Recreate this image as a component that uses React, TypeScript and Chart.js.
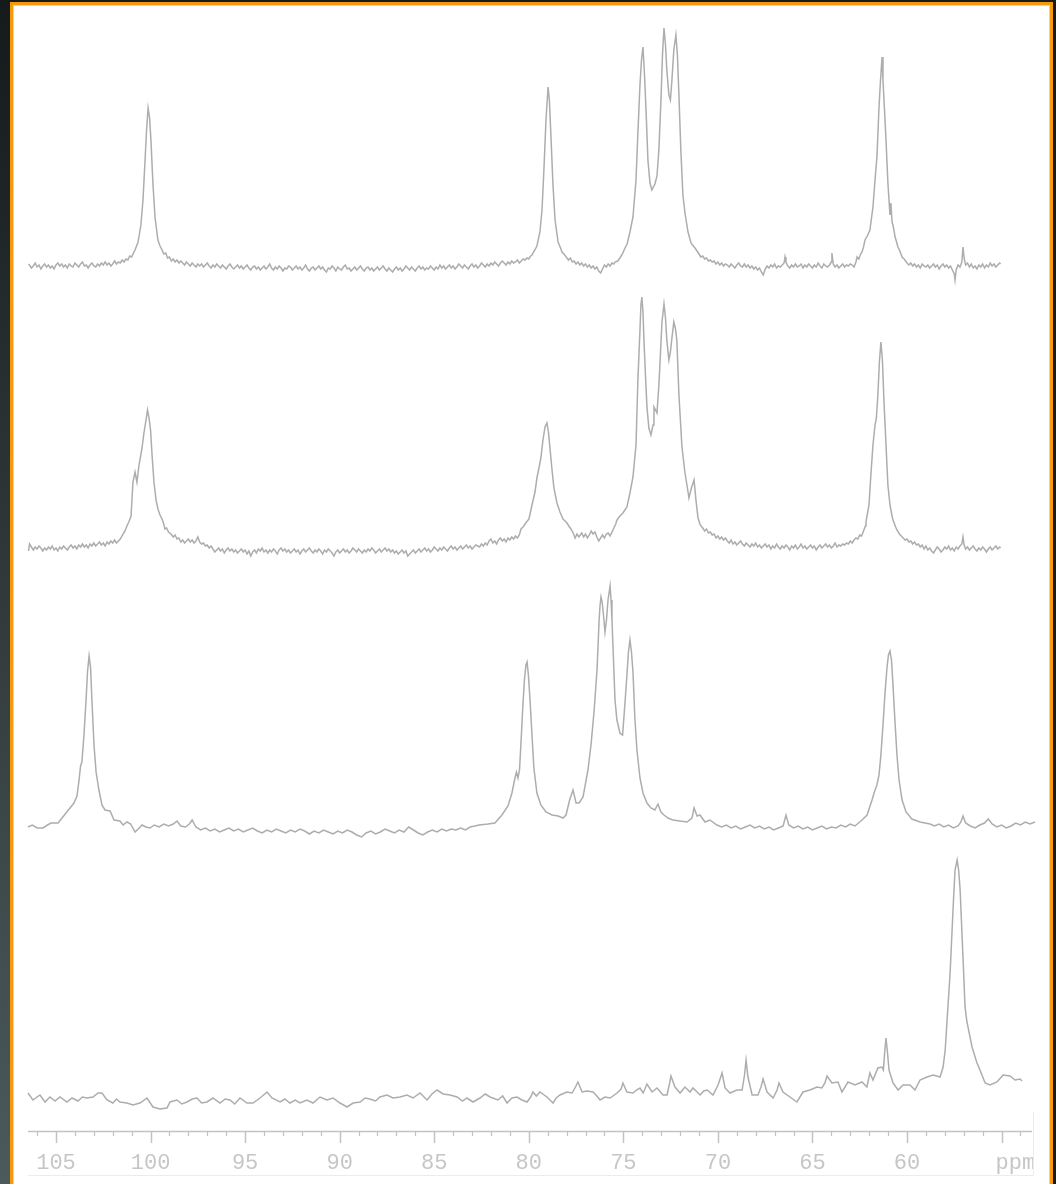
import { useEffect, useRef } from 'react';
import { Chart, registerables } from 'chart.js';

Chart.register(...registerables);

// [chemical shift (ppm), relative intensity]
const spectrumA: [number, number][] = [
  [106.45,2],[106.4,1],[106.3,-2],[106.2,0],[106.1,3],[106.0,-1],[105.9,1],[105.8,-3],[105.7,0],[105.6,2],[105.5,-1],[105.4,1],[105.3,-2],[105.2,0],[105.1,-3],[105.0,1],[104.9,3],[104.8,0],[104.7,2],[104.6,-1],[104.5,1],[104.4,-2],[104.3,2],[104.2,0],[104.1,-1],[104.0,3],[103.9,1],[103.8,-1],[103.7,2],[103.6,4],[103.5,0],[103.4,1],[103.3,-2],[103.2,1],[103.1,3],[103.0,0],[102.9,-1],[102.8,2],[102.7,0],[102.6,3],[102.5,1],[102.4,4],[102.3,1],[102.2,3],[102.1,0],[102.0,2],[101.9,5],[101.8,2],[101.7,4],
  [101.6,3],[101.5,6],[101.4,4],[101.3,7],[101.2,6],[101.1,10],[101.0,9],[100.9,13],[100.82,16],[100.66,24],[100.51,41],[100.4,66],[100.29,106],[100.21,136],[100.13,158],[100.05,148],[99.98,126],[99.87,81],[99.76,48],[99.61,26],[99.5,20],[99.39,16],[99.3,12],[99.2,13],[99.1,8],[99.0,9],[98.9,5],[98.8,7],[98.7,4],[98.6,6],[98.5,3],[98.4,5],
  [98.3,3],[98.2,1],[98.1,4],[98.0,2],[97.9,0],[97.8,3],[97.7,1],[97.6,-1],[97.5,2],[97.4,0],
  [97.3,2],[97.2,-1],[97.1,1],[97.0,3],[96.9,0],[96.8,-2],[96.7,1],[96.6,-1],[96.5,2],[96.4,0],
  [96.3,-2],[96.2,1],[96.1,-1],[96.0,-3],[95.9,0],[95.8,2],[95.7,-1],[95.6,-3],[95.5,-1],[95.4,1],
  [95.3,-2],[95.2,0],[95.1,-3],[95.0,-1],[94.9,1],[94.8,-2],[94.7,-4],[94.6,-1],[94.5,0],[94.4,-3],
  [94.3,-1],[94.2,-4],[94.1,-2],[94.0,0],[93.9,-3],[93.8,-1],[93.7,2],[93.6,-2],[93.5,-4],[93.4,-1],
  [93.3,-3],[93.2,0],[93.1,-2],[93.0,-5],[92.9,-2],[92.8,-3],[92.7,0],[92.6,-1],[92.5,-4],[92.4,-2],
  [92.3,0],[92.2,-3],[92.1,-1],[92.0,-4],[91.9,-2],[91.8,1],[91.7,-3],[91.6,-5],[91.5,-2],[91.4,-1],
  [91.3,-4],[91.2,-2],[91.1,0],[91.0,-3],[90.9,-1],[90.8,-4],[90.7,-6],[90.6,-2],[90.5,-3],[90.4,0],
  [90.3,-2],[90.2,-5],[90.1,-1],[90.0,-3],[89.9,-4],[89.8,-1],[89.7,1],[89.6,-3],[89.5,-2],[89.4,-5],
  [89.3,-3],[89.2,-1],[89.1,-4],[89.0,-2],[88.9,0],[88.8,-3],[88.7,-5],[88.6,-2],[88.5,-1],[88.4,-4],
  [88.3,-2],[88.2,-5],[88.1,-3],[88.0,-1],[87.9,-4],[87.8,-2],[87.7,0],[87.6,-3],[87.5,-5],[87.4,-2],
  [87.3,-4],[87.2,-6],[87.1,-3],[87.0,-1],[86.9,-4],[86.8,-2],[86.7,-5],[86.6,-3],[86.5,0],[86.4,-2],
  [86.3,-4],[86.2,-1],[86.1,-3],[86.0,-5],[85.9,-2],[85.8,0],[85.7,-3],[85.6,-1],[85.5,-4],[85.4,-2],
  [85.3,-3],[85.2,0],[85.1,-2],[85.0,-4],[84.9,-1],[84.8,-3],[84.7,1],[84.6,-2],[84.5,0],[84.4,-3],
  [84.3,-1],[84.2,1],[84.1,-2],[84.0,0],[83.9,-3],[83.8,-1],[83.7,2],[83.6,0],[83.5,-2],[83.4,1],
  [83.3,-1],[83.2,-3],[83.1,0],[83.0,2],[82.9,-1],[82.8,1],[82.7,-2],[82.6,0],[82.5,3],[82.4,1],
  [82.3,-1],[82.2,2],[82.1,0],[82.0,3],[81.9,1],[81.8,4],[81.7,2],[81.6,0],[81.5,3],[81.4,5],
  [81.3,3],[81.2,1],[81.1,4],[81.0,2],[80.9,5],[80.8,3],[80.7,4],[80.6,6],[80.5,3],[80.4,5],[80.3,7],[80.2,6],[80.1,8],[80.0,7],[79.9,10],[79.83,11],[79.75,14],[79.65,17],[79.57,20],[79.41,34],[79.3,56],[79.2,96],[79.09,146],[78.98,179],[78.91,166],[78.83,131],[78.72,81],[78.61,46],[78.45,24],[78.3,17],[78.24,14],[78.1,11],[77.98,8],[77.9,6],[77.8,8],[77.7,4],[77.6,5],[77.5,2],
  [77.4,4],[77.3,1],[77.2,3],[77.1,0],[77.0,2],[76.9,-1],[76.8,1],[76.7,-2],[76.6,0],[76.5,-3],[76.4,-1],[76.3,-5],[76.2,-7],[76.1,-3],[76.0,1],[75.9,-1],[75.8,2],[75.7,0],[75.6,3],[75.5,2],
  [75.44,4],[75.3,5],[75.18,8],[75.05,12],[74.91,18],[74.8,22],[74.65,34],[74.49,49],[74.33,86],[74.23,133],[74.12,181],[74.04,206],[73.96,219],[73.88,191],[73.8,156],[73.7,106],[73.59,83],[73.49,76],[73.33,82],[73.22,90],[73.12,116],[73.01,166],[72.93,211],[72.85,238],[72.77,221],[72.7,196],[72.59,171],[72.51,166],[72.43,186],[72.33,216],[72.22,231],[72.14,211],[72.06,171],[71.96,116],[71.85,71],[71.74,53],[71.58,34],[71.42,23],[71.3,20],[71.21,18],[71.1,15],[71.0,12],[70.9,9],[70.8,10],[70.7,7],[70.6,8],[70.5,5],[70.4,6],[70.3,4],[70.2,5],[70.1,2],[70.0,4],[69.9,1],[69.8,3],[69.7,0],[69.6,2],[69.5,1],
  [69.4,-1],[69.3,2],[69.2,0],[69.1,-2],[69.0,1],[68.9,3],[68.8,0],[68.7,-1],[68.6,2],[68.5,-1],
  [68.4,1],[68.3,-2],[68.2,0],[68.1,-3],[68.0,-1],[67.9,-4],[67.8,-2],[67.7,-6],[67.6,-9],[67.5,-3],
  [67.4,0],[67.3,-2],[67.2,1],[67.1,-1],[67.0,2],[66.9,-2],[66.8,0],[66.7,-1],[66.6,1],[66.5,3],
  [66.45,9],[66.4,4],[66.3,0],[66.2,-2],[66.1,1],[66.0,-1],[65.9,2],[65.8,-1],[65.7,0],[65.6,2],[65.5,-2],
  [65.4,1],[65.3,-1],[65.2,2],[65.1,0],[65.0,-2],[64.9,1],[64.8,-1],[64.7,3],[64.6,0],[64.5,-2],
  [64.4,2],[64.3,0],[64.2,-1],[64.1,1],[64.0,4],[63.97,13],[63.9,2],[63.8,-1],[63.7,1],[63.6,-2],[63.5,0],
  [63.4,2],[63.3,-1],[63.2,1],[63.1,0],[63.0,2],[62.9,1],[62.8,-1],
  [62.7,4],[62.64,9],[62.55,7],[62.45,12],[62.38,14],[62.3,19],[62.22,26],[62.1,30],[61.96,36],[61.8,59],[61.69,86],[61.59,109],[61.48,159],[61.4,186],[61.32,209],[61.27,186],[61.19,156],[61.11,126],[61.01,83],[60.9,51],[60.85,63],[60.79,44],[60.71,38],[60.63,29],[60.55,24],[60.48,19],[60.4,16],[60.3,11],[60.26,9],[60.15,7],[60.0,3],
  [59.9,1],[59.8,3],[59.7,0],[59.6,2],[59.5,-1],[59.4,1],[59.3,-2],[59.2,2],[59.1,0],[59.0,-1],[58.9,1],[58.8,-2],[58.7,0],[58.6,2],[58.5,-1],[58.4,1],[58.3,-3],[58.2,0],[58.1,2],[58.0,-1],[57.9,1],[57.8,-2],[57.7,0],[57.6,-4],[57.5,-8],[57.46,-14],[57.4,-4],[57.3,1],[57.2,-1],[57.1,4],[57.04,19],[56.98,8],[56.9,1],[56.8,3],[56.7,-1],[56.6,2],[56.5,-2],[56.4,0],[56.3,-3],[56.2,1],[56.1,-1],[56.0,2],[55.9,-2],[55.8,1],[55.7,-1],[55.6,3],[55.5,0],[55.4,2],[55.3,-1],[55.2,1],[55.1,3],[55.05,2],
];

const spectrumB: [number, number][] = [
  [106.45,-3],[106.4,4],[106.3,1],[106.2,-2],[106.1,1],[106.0,-1],[105.9,2],[105.8,0],[105.7,-3],[105.6,0],[105.5,-2],[105.4,1],[105.3,-1],[105.2,2],[105.1,-2],[105.0,0],[104.9,-3],[104.8,1],[104.7,-1],[104.6,2],[104.5,0],[104.4,-2],[104.3,1],[104.2,3],[104.1,0],[104.0,2],[103.9,-1],[103.8,3],[103.7,1],[103.6,4],[103.5,1],[103.4,3],[103.3,0],[103.2,4],[103.1,2],[103.0,5],[102.9,2],[102.8,4],[102.7,6],[102.6,3],[102.5,5],[102.4,2],[102.3,6],[102.2,4],[102.1,7],[102.0,5],[101.9,8],[101.8,5],[101.7,7],[101.6,9],
  [101.45,14],[101.35,17],[101.25,22],[101.15,26],[101.03,32],[100.93,66],[100.82,76],[100.72,66],[100.61,83],[100.45,100],[100.35,115],[100.24,128],[100.16,138],[100.08,130],[100.0,118],[99.92,93],[99.82,66],[99.71,48],[99.61,39],[99.5,33],[99.39,29],[99.3,24],[99.24,19],[99.15,20],[99.05,16],[98.92,14],[98.8,11],[98.7,13],[98.6,9],[98.5,10],[98.4,6],[98.3,8],[98.2,5],[98.1,7],[98.0,9],[97.9,6],[97.8,8],[97.7,5],[97.6,7],[97.5,11],[97.4,6],[97.3,4],[97.2,5],[97.1,2],[97.0,3],[96.9,0],[96.8,2],
  [96.7,-1],[96.6,-4],[96.5,-2],[96.4,0],[96.3,-3],[96.2,-1],[96.1,-5],[96.0,-2],[95.9,0],[95.8,-3],
  [95.7,-1],[95.6,-4],[95.5,-2],[95.4,-5],[95.3,-3],[95.2,-1],[95.1,-4],[95.0,-2],[94.9,-6],[94.8,-3],
  [94.7,-8],[94.6,-4],[94.5,-2],[94.4,-5],[94.3,-1],[94.2,-3],[94.1,0],[94.0,-4],[93.9,-2],[93.8,-5],
  [93.7,-2],[93.6,-4],[93.5,-1],[93.4,-3],[93.3,-6],[93.2,-2],[93.1,0],[93.0,-3],[92.9,-1],[92.8,-4],
  [92.7,-2],[92.6,-5],[92.5,-3],[92.4,-1],[92.3,-4],[92.2,-2],[92.1,-6],[92.0,-3],[91.9,-1],[91.8,-4],
  [91.7,-2],[91.6,0],[91.5,-3],[91.4,-5],[91.3,-2],[91.2,-4],[91.1,-1],[91.0,-3],[90.9,-6],[90.8,-2],
  [90.7,-4],[90.6,-1],[90.5,-3],[90.4,-5],[90.3,-8],[90.2,-4],[90.1,-2],[90.0,-5],[89.9,-3],[89.8,-1],
  [89.7,-4],[89.6,-2],[89.5,-5],[89.4,-3],[89.3,0],[89.2,-2],[89.1,-4],[89.0,-1],[88.9,-3],[88.8,-5],
  [88.7,-2],[88.6,-4],[88.5,-1],[88.4,-3],[88.3,0],[88.2,-2],[88.1,-5],[88.0,-3],[87.9,-1],[87.8,-4],
  [87.7,-2],[87.6,0],[87.5,-3],[87.4,-1],[87.3,-4],[87.2,-2],[87.1,-5],[87.0,-3],[86.9,-6],[86.8,-4],
  [86.7,-2],[86.6,-5],[86.5,-3],[86.4,-8],[86.3,-6],[86.2,-4],[86.1,-2],[86.0,-5],[85.9,-3],[85.8,-1],
  [85.7,-4],[85.6,-2],[85.5,0],[85.4,-3],[85.3,-1],[85.2,-4],[85.1,-2],[85.0,1],[84.9,-1],[84.8,-3],
  [84.7,0],[84.6,-2],[84.5,1],[84.4,-1],[84.3,-3],[84.2,0],[84.1,2],[84.0,-1],[83.9,1],[83.8,-2],
  [83.7,0],[83.6,2],[83.5,-1],[83.4,1],[83.3,3],[83.2,0],[83.1,2],[83.0,-1],[82.9,1],[82.8,3],[82.7,2],
  [82.6,1],[82.5,4],[82.4,2],[82.3,5],[82.2,3],[82.1,7],[82.0,9],[81.9,5],[81.8,7],[81.7,4],[81.6,8],[81.5,10],[81.4,7],[81.3,9],[81.2,6],[81.1,10],[81.0,8],[80.9,11],[80.8,9],[80.7,12],[80.6,10],[80.5,13],[80.41,19],[80.3,21],[80.2,24],
  [79.99,29],[79.83,43],[79.67,56],[79.57,70],[79.46,80],[79.36,90],[79.25,108],[79.14,121],[79.04,125],[78.96,116],[78.88,100],[78.77,78],[78.67,60],[78.51,45],[78.35,36],[78.19,29],[78.08,27],[77.98,25],[77.88,22],[77.77,19],[77.65,15],[77.55,10],[77.45,14],[77.35,11],[77.2,15],[77.1,11],[77.0,14],[76.9,10],[76.8,13],[76.7,17],[76.6,14],[76.5,16],[76.4,11],[76.3,7],[76.2,10],[76.1,13],[76.0,10],[75.9,14],[75.8,15],[75.7,12],[75.6,16],[75.5,20],[75.4,24],[75.34,28],[75.18,32],[75.02,35],[74.81,41],[74.65,55],[74.49,71],[74.33,103],[74.23,168],[74.12,218],[74.07,243],[74.02,251],[73.96,236],[73.91,208],[73.83,173],[73.75,141],[73.65,120],[73.54,113],[73.43,123],[73.38,141],[73.3,138],[73.22,135],[73.12,163],[73.04,193],[72.96,225],[72.85,244],[72.77,230],[72.7,208],[72.59,188],[72.51,196],[72.43,210],[72.33,226],[72.25,220],[72.17,208],[72.06,153],[71.9,101],[71.74,75],[71.61,60],[71.53,50],[71.4,60],[71.26,68],[71.16,48],[71.05,30],[70.95,24],[70.89,22],[70.8,20],[70.7,17],[70.6,19],[70.5,15],[70.4,16],[70.3,13],[70.2,14],[70.1,10],[70.0,12],[69.9,9],[69.8,11],[69.7,8],[69.6,10],[69.5,7],
  [69.4,5],[69.3,8],[69.2,4],[69.1,6],[69.0,3],[68.9,5],[68.8,7],[68.7,4],[68.6,2],[68.5,5],
  [68.4,3],[68.3,1],[68.2,4],[68.1,2],[68.0,5],[67.9,1],[67.8,3],[67.7,0],[67.6,2],[67.5,4],
  [67.4,1],[67.3,3],[67.2,-1],[67.1,2],[67.0,0],[66.9,4],[66.8,1],[66.7,-1],[66.6,2],[66.5,0],
  [66.4,3],[66.3,1],[66.2,-2],[66.1,2],[66.0,0],[65.9,3],[65.8,-1],[65.7,1],[65.6,4],[65.5,0],
  [65.4,2],[65.3,-1],[65.2,1],[65.1,3],[65.0,0],[64.9,2],[64.8,-2],[64.7,1],[64.6,3],[64.5,0],
  [64.4,2],[64.3,4],[64.2,1],[64.1,3],[64.0,0],[63.9,2],[63.8,5],[63.7,1],[63.6,3],[63.5,2],[63.4,4],
  [63.3,3],[63.2,5],[63.1,4],[63.0,7],[62.9,5],[62.8,8],[62.7,10],[62.6,9],[62.5,13],[62.4,12],[62.3,17],[62.2,22],[62.17,26],[62.01,43],[61.91,73],[61.8,103],[61.69,123],[61.62,130],[61.54,153],[61.46,186],[61.38,206],[61.3,188],[61.22,148],[61.11,103],[61.01,63],[60.9,43],[60.8,33],[60.74,28],[60.6,21],[60.53,18],[60.4,14],[60.3,12],[60.2,10],[60.1,8],[60.0,9],[59.9,6],[59.8,7],[59.7,4],[59.6,6],[59.5,3],[59.4,4],[59.3,1],
  [59.2,3],[59.1,-1],[59.0,2],[58.9,-2],[58.8,0],[58.7,-3],[58.6,-5],[58.5,-2],[58.4,1],[58.3,-1],[58.2,-4],[58.1,-2],[58.0,1],[57.9,-1],[57.8,2],[57.7,-2],[57.6,0],[57.5,-3],[57.4,1],[57.3,-1],[57.2,2],[57.1,4],[57.04,11],[56.98,3],[56.9,-1],[56.8,1],[56.7,-2],[56.6,0],[56.5,2],[56.4,-1],[56.3,-3],[56.2,0],[56.1,-2],[56.0,1],[55.9,-1],[55.8,-4],[55.7,-1],[55.6,1],[55.5,-2],[55.4,0],[55.3,2],[55.2,-1],[55.1,1],[55.05,0],
];

const spectrumC: [number, number][] = [
  [106.48,-1],[106.25,1],[106.0,-2],[105.69,-2],[105.45,1],[105.26,3],[104.89,3],[104.68,8],[104.47,13],[104.26,18],[104.05,23],[103.89,30],[103.78,46],[103.7,60],[103.63,64],[103.52,91],[103.41,126],[103.33,155],[103.25,170],[103.17,158],[103.1,126],[102.99,81],[102.88,54],[102.73,36],[102.57,21],[102.41,16],[102.14,15],[101.93,6],[101.62,5],[101.45,1],[101.25,4],[101.05,2],[100.82,-6],[100.65,-3],[100.45,1],[100.25,-1],[100.03,-2],
  [99.8,1],[99.55,-1],[99.3,2],[99.05,0],[98.8,2],[98.6,5],[98.4,0],[98.15,-1],[97.95,2],[97.8,6],[97.6,-1],[97.35,-4],[97.1,-2],[96.85,-5],[96.6,-3],[96.35,-6],[96.1,-4],[95.85,-2],[95.6,-5],[95.35,-3],[95.1,-6],[94.85,-4],[94.6,-2],[94.35,-5],[94.1,-7],[93.85,-4],[93.6,-6],[93.35,-3],[93.1,-5],[92.85,-7],[92.6,-4],[92.35,-6],[92.1,-3],[91.85,-5],[91.6,-8],[91.35,-5],[91.1,-7],[90.85,-4],[90.6,-6],[90.35,-8],[90.1,-5],[89.85,-7],[89.6,-4],[89.35,-6],[89.1,-9],[88.85,-11],[88.6,-7],[88.35,-5],[88.1,-8],[87.85,-6],[87.6,-3],[87.35,-5],[87.1,-7],[86.85,-4],[86.6,-6],[86.35,-1],[86.1,-4],[85.85,-7],[85.6,-9],[85.35,-6],[85.1,-4],[84.85,-6],[84.6,-3],[84.35,-5],[84.1,-3],[83.85,-4],[83.6,-2],[83.35,-4],[83.1,-1],[82.85,0],
  [82.63,1],[82.16,2],[81.79,3],[81.42,11],[81.1,20],[80.89,33],[80.73,48],[80.65,54],[80.57,48],[80.49,56],[80.41,84],[80.31,121],[80.23,146],[80.15,161],[80.09,164],[80.02,151],[79.94,128],[79.83,91],[79.73,58],[79.57,33],[79.36,21],[79.09,14],[78.77,11],[78.45,10],[78.19,8],[78.03,11],[77.84,26],[77.66,36],[77.5,23],[77.34,23],[77.13,29],[76.87,56],[76.71,81],[76.55,114],[76.39,156],[76.28,206],[76.23,221],[76.18,229],[76.12,224],[76.04,209],[75.97,194],[75.89,206],[75.81,226],[75.7,240],[75.65,226],[75.6,206],[75.52,166],[75.44,126],[75.34,106],[75.18,93],[75.04,91],[74.96,111],[74.89,129],[74.81,151],[74.73,174],[74.65,186],[74.57,174],[74.49,154],[74.39,108],[74.28,76],[74.12,48],[73.96,33],[73.75,23],[73.54,18],[73.33,16],[73.17,22],[73.01,14],[72.85,11],[72.64,8],[72.38,6],[72.01,5],[71.63,4],[71.37,8],[71.26,18],[71.1,10],[70.95,11],[70.68,4],[70.42,6],[70.05,1],
  [69.8,-1],[69.55,1],[69.3,-2],[69.05,0],[68.8,-3],[68.55,-1],[68.3,1],[68.05,-2],[67.8,0],[67.55,-3],[67.3,-1],[67.05,-4],[66.8,-2],[66.55,0],[66.4,11],[66.25,1],[66.0,-2],[65.75,0],[65.5,-3],[65.25,-1],[65.0,-4],[64.75,-2],[64.5,0],[64.25,-3],[64.0,-1],[63.75,-2],[63.5,1],[63.25,-1],[63.0,2],
  [62.75,0],[62.38,6],[62.11,11],[61.85,26],[61.69,36],[61.59,41],[61.48,51],[61.38,71],[61.27,101],[61.17,131],[61.06,158],[60.98,171],[60.9,175],[60.82,166],[60.74,141],[60.64,106],[60.53,71],[60.42,46],[60.26,26],[60.05,14],[59.74,7],[59.31,4],[58.78,2],
  [58.55,0],[58.3,2],[58.05,-1],[57.8,1],[57.55,-2],[57.3,0],[57.15,4],[57.04,10],[56.9,3],[56.65,0],[56.4,-2],[56.15,1],[55.9,3],[55.7,7],[55.5,2],[55.25,-1],[55.0,1],[54.75,-2],[54.5,0],[54.25,3],[54.0,1],[53.75,4],[53.5,2],[53.23,4],
];

const spectrumD: [number, number][] = [
  [106.48,2],[106.22,-5],[105.85,0],[105.58,-7],[105.32,-2],[105.05,-6],[104.79,-2],[104.42,-7],[104.15,-3],[103.84,-6],[103.6,-2],[103.36,-3],[103.04,-2],[102.78,2],[102.57,2],[102.3,-5],[101.99,-8],[101.8,-4],[101.62,-7],[101.25,-8],[100.93,-10],[100.56,-8],[100.19,-3],[99.87,-12],[99.5,-14],[99.13,-13],[98.97,-7],[98.6,-5],[98.35,-9],[98.07,-7],[97.8,-4],[97.54,-3],[97.3,-8],[97.02,-7],[96.7,-3],[96.33,-8],[96.05,-4],[95.8,-5],[95.55,-9],[95.27,-3],[94.9,-8],[94.58,-8],[94.21,-3],[93.84,3],[93.58,-3],[93.15,-7],[92.9,-4],[92.63,-8],[92.35,-5],[92.1,-8],[91.73,-5],[91.41,-8],[91.04,-2],[90.67,-5],[90.35,-3],[89.98,-8],[89.61,-12],[89.29,-8],[88.92,-7],[88.65,-3],[88.4,-4],[88.1,-6],[87.87,-2],[87.5,0],[87.18,-3],[86.81,-2],[86.44,0],[86.12,-3],[85.75,2],[85.38,-5],[85.12,1],[84.85,5],[84.53,1],[84.16,0],[83.79,-2],[83.5,-6],[83.27,-3],[82.95,-7],[82.58,-3],[82.3,1],[82.05,-2],[81.63,-5],[81.38,-1],[81.15,-8],[80.89,-3],[80.62,-2],[80.36,-5],[80.09,-7],[79.9,-2],[79.78,3],[79.6,-1],[79.41,3],[79.04,-2],[78.72,-8],[78.55,-3],[78.35,0],[77.98,3],[77.71,2],[77.53,8],[77.4,13],[77.18,3],[76.92,4],[76.6,3],[76.4,-1],[76.23,-5],[75.97,-2],[75.7,-3],[75.33,2],[75.12,6],[75.02,12],[74.81,3],[74.49,2],[74.3,5],[74.12,7],[73.95,2],[73.75,11],[73.48,3],[73.22,7],[72.9,0],[72.69,0],[72.55,12],[72.48,19],[72.27,8],[72.0,2],[71.74,8],[71.47,3],[71.32,7],[70.94,0],[70.75,4],[70.57,5],[70.26,0],[69.99,10],[69.78,22],[69.62,7],[69.36,2],[68.99,5],[68.72,5],[68.59,20],[68.51,35],[68.41,18],[68.19,0],[67.88,0],[67.72,8],[67.61,16],[67.4,3],[67.08,-3],[66.87,5],[66.77,12],[66.56,3],[66.19,-2],[65.82,-7],[65.5,3],[65.13,5],[64.76,8],[64.5,7],[64.34,12],[64.23,19],[63.97,12],[63.65,13],[63.44,3],[63.12,13],[62.75,10],[62.38,13],[62.12,8],[61.96,22],[61.8,15],[61.54,27],[61.33,28],[61.25,25],[61.17,45],[61.11,57],[61.03,42],[60.95,25],[60.74,12],[60.47,5],[60.21,10],[59.84,10],[59.58,5],[59.31,15],[58.94,18],[58.62,20],[58.25,18],[58.09,28],[57.98,45],[57.88,75],[57.72,122],[57.56,188],[57.46,225],[57.35,235],[57.27,225],[57.19,205],[57.04,138],[56.93,88],[56.83,73],[56.56,48],[56.3,32],[56.14,25],[55.87,12],[55.61,10],[55.24,13],[54.92,20],[54.55,19],[54.29,15],[54.02,16],[53.92,14],
];

// vertical stacking of the four traces (baseline level of each trace)
const traceBaselines = [865, 583, 305, 36];

const axisMin = 53.39;
const axisMax = 106.48;
const majorTicks = [105, 100, 95, 90, 85, 80, 75, 70, 65, 60, 55];
const tickLabels = ['105', '100', '95', '90', '85', '80', '75', '70', '65', '60'];
const unitLabel = 'ppm';

const LINE_COLOR = '#adadad';
const AXIS_COLOR = '#c2c2c2';
const LABEL_COLOR = '#c6c6c6';
const FONT = '22px "Liberation Mono", "DejaVu Sans Mono", monospace';

const ppmAxisPlugin = {
  id: 'ppmAxis',
  afterDraw(chart: any) {
    const { ctx, chartArea, scales } = chart;
    const xs = scales.x;
    const y0 = chartArea.bottom;
    ctx.save();
    // faint frame remnants
    ctx.strokeStyle = '#ececec';
    ctx.lineWidth = 1;
    ctx.beginPath();
    ctx.moveTo(chartArea.right + 1.5, y0 - 19);
    ctx.lineTo(chartArea.right + 1.5, y0 + 44.5);
    ctx.moveTo(chartArea.left, y0 + 44.5);
    ctx.lineTo(chartArea.right + 1.5, y0 + 44.5);
    ctx.stroke();
    // axis line
    ctx.strokeStyle = AXIS_COLOR;
    ctx.lineWidth = 1.5;
    ctx.beginPath();
    ctx.moveTo(chartArea.left, y0 + 0.5);
    ctx.lineTo(chartArea.right, y0 + 0.5);
    ctx.stroke();
    // minor ticks every 1 ppm
    ctx.lineWidth = 1.2;
    ctx.beginPath();
    for (let v = Math.ceil(axisMin); v <= Math.floor(axisMax); v++) {
      if (majorTicks.includes(v)) continue;
      const px = Math.round(xs.getPixelForValue(v)) + 0.5;
      ctx.moveTo(px, y0);
      ctx.lineTo(px, y0 + 5);
    }
    ctx.stroke();
    // major ticks
    ctx.lineWidth = 1.5;
    ctx.beginPath();
    majorTicks.forEach((v) => {
      const px = Math.round(xs.getPixelForValue(v)) + 0.5;
      ctx.moveTo(px, y0);
      ctx.lineTo(px, y0 + 12);
    });
    ctx.stroke();
    // labels
    ctx.fillStyle = LABEL_COLOR;
    ctx.font = FONT;
    ctx.textBaseline = 'alphabetic';
    ctx.textAlign = 'center';
    tickLabels.forEach((t, i) => {
      ctx.fillText(t, xs.getPixelForValue(majorTicks[i]), y0 + 38);
    });
    // unit label, clipped at the frame edge
    ctx.save();
    ctx.beginPath();
    ctx.rect(0, y0, chartArea.right + 1, 60);
    ctx.clip();
    ctx.textAlign = 'left';
    ctx.fillText(unitLabel, xs.getPixelForValue(55) - 6, y0 + 38);
    ctx.restore();
    ctx.restore();
  },
};

export default function App() {
  const canvasRef = useRef<HTMLCanvasElement>(null);

  useEffect(() => {
    document.body.style.margin = '0';
    const canvas = canvasRef.current;
    if (!canvas) return;
    const spectra = [spectrumA, spectrumB, spectrumC, spectrumD];
    const datasets = spectra.map((s, i) => ({
      label: 'trace ' + (i + 1),
      data: s.map(([p, v]) => ({ x: p, y: v + traceBaselines[i] })),
      borderColor: LINE_COLOR,
      borderWidth: 1.5,
      pointRadius: 0,
      tension: 0,
      fill: false,
      clip: false as const,
    }));
    const chart = new Chart(canvas, {
      type: 'line',
      data: { datasets },
      options: {
        animation: false,
        responsive: false,
        maintainAspectRatio: false,
        devicePixelRatio: 1,
        layout: { padding: { left: 28, right: 24, top: 0, bottom: 53 } },
        plugins: { legend: { display: false }, tooltip: { enabled: false } },
        events: [],
        scales: {
          x: { type: 'linear', min: axisMin, max: axisMax, reverse: true, display: false },
          y: { type: 'linear', min: 0, max: 1131, display: false },
        },
      },
      plugins: [ppmAxisPlugin],
    });
    return () => chart.destroy();
  }, []);

  return (
    <div style={{ position: 'absolute', left: 0, top: 0, width: 1056, height: 1184, overflow: 'hidden', background: '#181c1d' }}>
      <div style={{ position: 'absolute', left: 0, top: 0, width: 10, height: 1184, background: 'linear-gradient(#151a1b, #4c5a5b)' }} />
      <div
        style={{
          position: 'absolute', left: 10, top: 2, width: 1043, height: 1200, boxSizing: 'border-box',
          border: '3px solid #f59a0c', background: '#ffffff', boxShadow: 'inset 0 0 0 1px #fbd08c',
        }}
      />
      <canvas ref={canvasRef} width={1056} height={1184} style={{ position: 'absolute', left: 0, top: 0 }} />
    </div>
  );
}
